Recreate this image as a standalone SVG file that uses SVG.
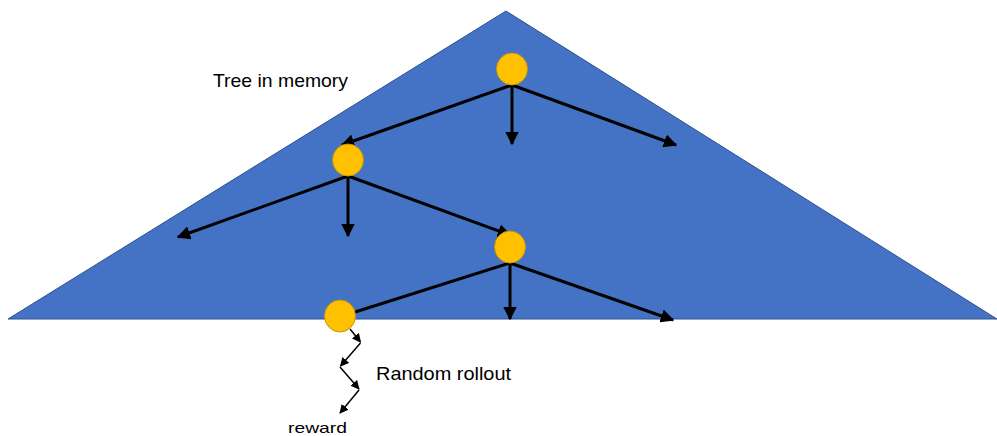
<svg xmlns="http://www.w3.org/2000/svg" width="997" height="436" viewBox="0 0 997 436">
  <defs>
    <marker id="ah" viewBox="0 0 10 10" refX="9" refY="5" markerWidth="4.5" markerHeight="4.5" orient="auto" markerUnits="strokeWidth">
      <path d="M0,0 L10,5 L0,10 Z" fill="#000"/>
    </marker>
    <marker id="ahs" viewBox="0 0 10 10" refX="9" refY="5" markerWidth="6" markerHeight="6" orient="auto" markerUnits="strokeWidth">
      <path d="M0,0 L10,5 L0,10 Z" fill="#000"/>
    </marker>
  </defs>
  <style>
    .edge { stroke: #000; stroke-width: 3; fill: none; marker-end: url(#ah); }
    .plain { stroke: #000; stroke-width: 3; fill: none; }
    .roll { stroke: #000; stroke-width: 1.5; fill: none; marker-end: url(#ahs); }
    .node { fill: #FFC000; stroke: #C9960A; stroke-width: 1; }
    .lbl { font-family: "Liberation Sans", Arial, sans-serif; fill: #000; }
  </style>

  <!-- search tree region -->
  <polygon id="tree-region" points="506,11 8,319 997,319" fill="#4472C4" stroke="#2F528F" stroke-width="1"/>

  <g id="connectors">
    <line class="edge" x1="512" y1="85" x2="342" y2="145"/>
    <line class="edge" x1="512" y1="85" x2="512" y2="144"/>
    <line class="edge" x1="512" y1="85" x2="676" y2="145"/>
    <line class="edge" x1="348" y1="176" x2="178" y2="237"/>
    <line class="edge" x1="348" y1="176" x2="348" y2="236"/>
    <line class="edge" x1="348" y1="176" x2="510" y2="235"/>
    <line class="plain" x1="510" y1="263" x2="352" y2="313"/>
    <line class="edge" x1="510" y1="263" x2="510" y2="319"/>
    <line class="edge" x1="510" y1="263" x2="673" y2="320"/>
    <!-- rollout path -->
    <line class="roll" x1="350" y1="329" x2="360.5" y2="342"/>
    <line class="roll" x1="360.5" y1="343" x2="340.5" y2="366"/>
    <line class="roll" x1="340" y1="367" x2="359" y2="389"/>
    <line class="roll" x1="359" y1="390" x2="340" y2="413"/>
  </g>

  <g id="n-root"><ellipse class="node" cx="512" cy="69" rx="15.5" ry="16"/></g>
  <g id="n-a"><ellipse class="node" cx="348" cy="160" rx="15.5" ry="16"/></g>
  <g id="n-b"><ellipse class="node" cx="510" cy="247" rx="15.5" ry="16"/></g>
  <g id="n-c"><ellipse class="node" cx="340" cy="316" rx="15.5" ry="16"/></g>

  <text class="lbl" x="213" y="87" font-size="19" textLength="135" lengthAdjust="spacingAndGlyphs">Tree in memory</text>
  <text class="lbl" x="376" y="380" font-size="19" textLength="135" lengthAdjust="spacingAndGlyphs">Random rollout</text>
  <text class="lbl" x="288" y="433" font-size="15" textLength="59" lengthAdjust="spacingAndGlyphs">reward</text>
</svg>
